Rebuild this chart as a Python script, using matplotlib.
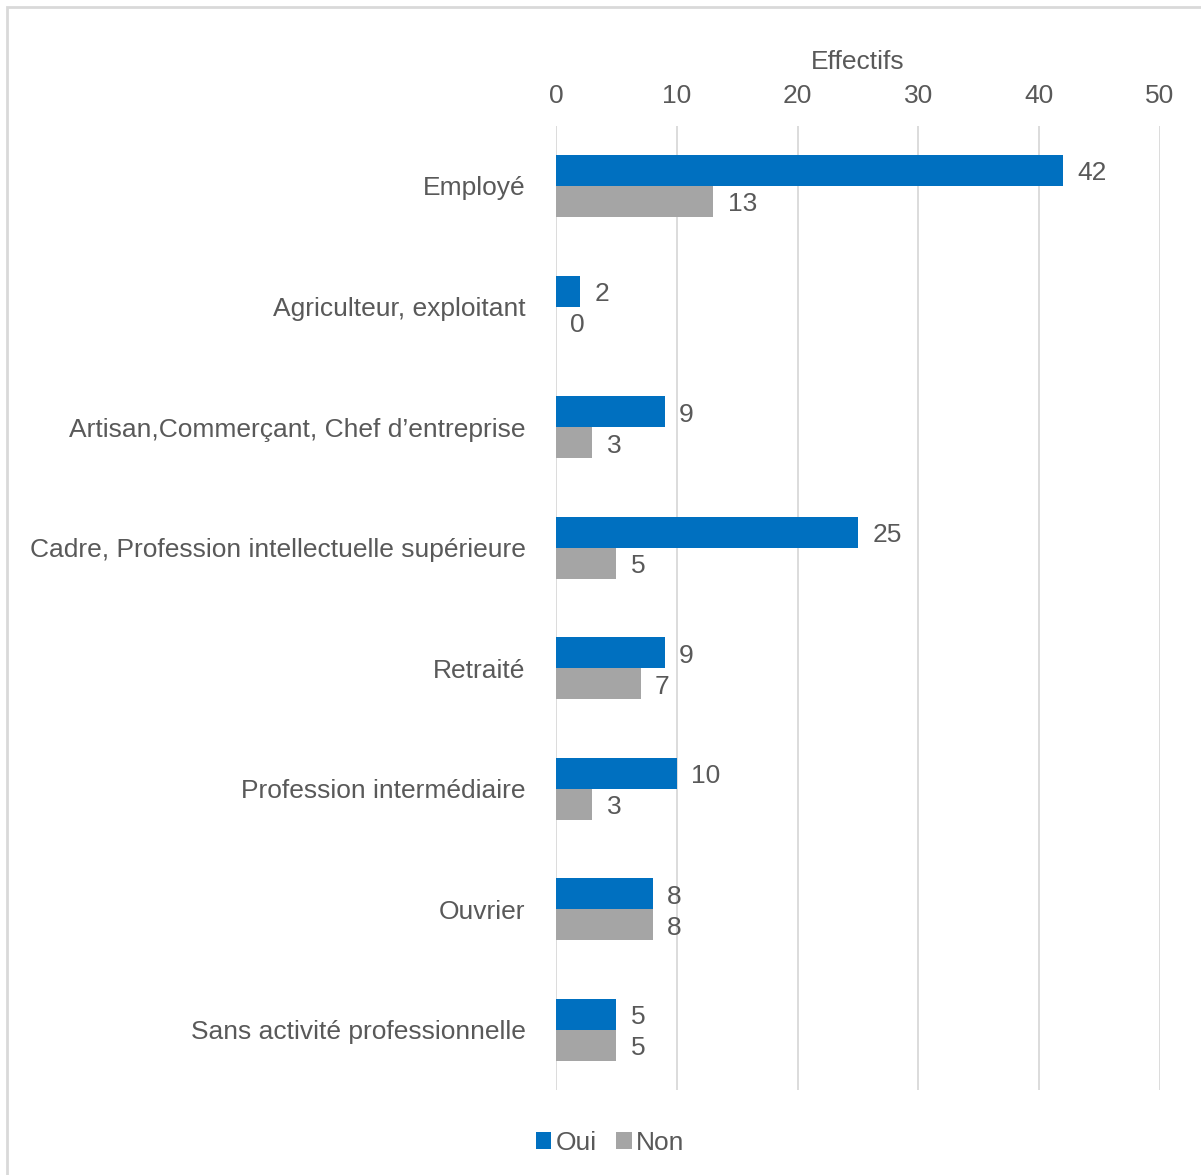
import matplotlib
matplotlib.use("Agg")
import matplotlib.pyplot as plt
from matplotlib.patches import Rectangle
import numpy as np

plt.rcParams['font.family'] = ['Liberation Sans', 'DejaVu Sans']

categories = ["Employé", "Agriculteur, exploitant", "Artisan,Commerçant, Chef d\u2019entreprise",
              "Cadre, Profession intellectuelle supérieure", "Retraité",
              "Profession intermédiaire", "Ouvrier", "Sans activité professionnelle"]
oui = [42, 2, 9, 25, 9, 10, 8, 5]
non = [13, 0, 3, 5, 7, 3, 8, 5]
series_names = ["Oui", "Non"]
xticks = [0, 10, 20, 30, 40, 50]

blue = "#0070C0"
grey = "#A5A5A5"
txt = "#595959"
fs = 19

fig = plt.figure(figsize=(12.01, 11.75), dpi=100)
ax = fig.add_axes([556/1201, 1-1090/1175, (1160-556)/1201, (1090-125.7)/1175])

# frame around figure (left and top visible)
fig.add_artist(Rectangle((7/1201, -0.01), 1.1, 1-7/1175+0.01, transform=fig.transFigure,
                         fill=False, edgecolor="#D9D9D9", linewidth=2))

y = np.arange(len(categories))
h = 0.257
ax.barh(y - h/2, oui, height=h, color=blue, label=series_names[0], zorder=3)
ax.barh(y + h/2, non, height=h, color=grey, label=series_names[1], zorder=3)

for i in range(len(categories)):
    ax.text(oui[i] + 1.2, y[i] - h/2 + 0.025, str(oui[i]), va="center", ha="left", fontsize=fs, color=txt)
    ax.text(non[i] + 1.2, y[i] + h/2 + 0.025, str(non[i]), va="center", ha="left", fontsize=fs, color=txt)

ax.set_xlim(0, 50)
ax.set_ylim(len(categories) - 0.5, -0.5)
ax.set_xticks(xticks)
ax.xaxis.tick_top()
ax.xaxis.set_label_position("top")
ax.set_xlabel("Effectifs", fontsize=fs, color=txt, labelpad=11)
ax.tick_params(axis="x", length=0, labelsize=fs, labelcolor=txt, pad=12.5)
ax.set_yticks(y)
ax.set_yticklabels(categories)
ax.tick_params(axis="y", length=0, labelsize=fs, labelcolor=txt, pad=22)
ax.grid(axis="x", color="#D9D9D9", linewidth=1.3, zorder=0)
for s in ax.spines.values():
    s.set_visible(False)

leg = fig.legend(loc="center", bbox_to_anchor=(610/1201, 1-1143/1175), ncol=2, frameon=False,
                 fontsize=fs, handlelength=0.6, handleheight=0.6, handletextpad=0.15,
                 columnspacing=0.75)
for t in leg.get_texts():
    t.set_color(txt)

fig.savefig("out.png", dpi=100, facecolor="white")
